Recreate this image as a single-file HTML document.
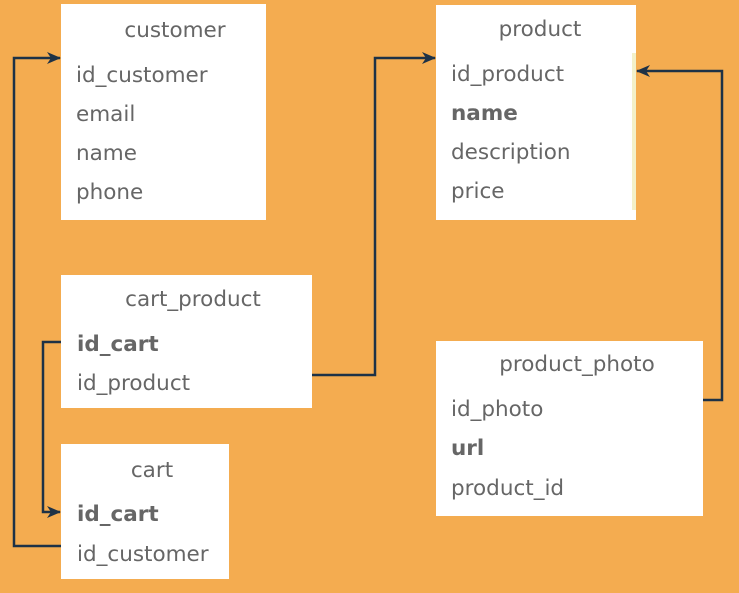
<!DOCTYPE html>
<html><head><meta charset="utf-8"><style>
html,body{margin:0;padding:0;background:#F4AC50;}
svg{display:block}
text{font-family:"DejaVu Sans","Liberation Sans",sans-serif;font-size:21.5px;fill:#666;}
.b{font-weight:bold}
</style></head><body>
<svg width="739" height="593" viewBox="0 0 739 593">
<defs><marker id="a" markerWidth="14" markerHeight="14" refX="13" refY="7" orient="auto" markerUnits="userSpaceOnUse"><path d="M0,1 L14,7 L0,13 L4,7 Z" fill="#1E3246"/></marker></defs>
<rect x="61" y="4" width="205" height="216" fill="#fff"/>
<rect x="436" y="5" width="200" height="215" fill="#fff"/>
<rect x="632" y="53" width="4" height="157" fill="#F3F0C8"/>
<rect x="61" y="275" width="251" height="133" fill="#fff"/>
<rect x="61" y="444" width="168" height="135" fill="#fff"/>
<rect x="436" y="341" width="267" height="175" fill="#fff"/>
<g fill="none" stroke="#1E3246" stroke-width="2.5">
<path d="M61,546 H14 V58 H60" marker-end="url(#a)"/>
<path d="M61,342 H43 V512 H60" marker-end="url(#a)"/>
<path d="M312,375 H375 V58 H435" marker-end="url(#a)"/>
<path d="M703,400 H722 V71 H637" marker-end="url(#a)"/>
</g>
<text x="175" y="37" text-anchor="middle">customer</text>
<text x="76" y="82">id_customer</text>
<text x="76" y="121">email</text>
<text x="76" y="160">name</text>
<text x="76" y="199">phone</text>
<text x="540" y="36" text-anchor="middle">product</text>
<text x="451" y="81">id_product</text>
<text x="451" y="120" class="b">name</text>
<text x="451" y="159">description</text>
<text x="451" y="198">price</text>
<text x="193" y="306" text-anchor="middle">cart_product</text>
<text x="77" y="351" class="b">id_cart</text>
<text x="77" y="390">id_product</text>
<text x="152" y="477" text-anchor="middle">cart</text>
<text x="77" y="521" class="b">id_cart</text>
<text x="77" y="561">id_customer</text>
<text x="577" y="371" text-anchor="middle">product_photo</text>
<text x="451" y="416">id_photo</text>
<text x="451" y="455" class="b">url</text>
<text x="451" y="495">product_id</text>
</svg>
</body></html>
